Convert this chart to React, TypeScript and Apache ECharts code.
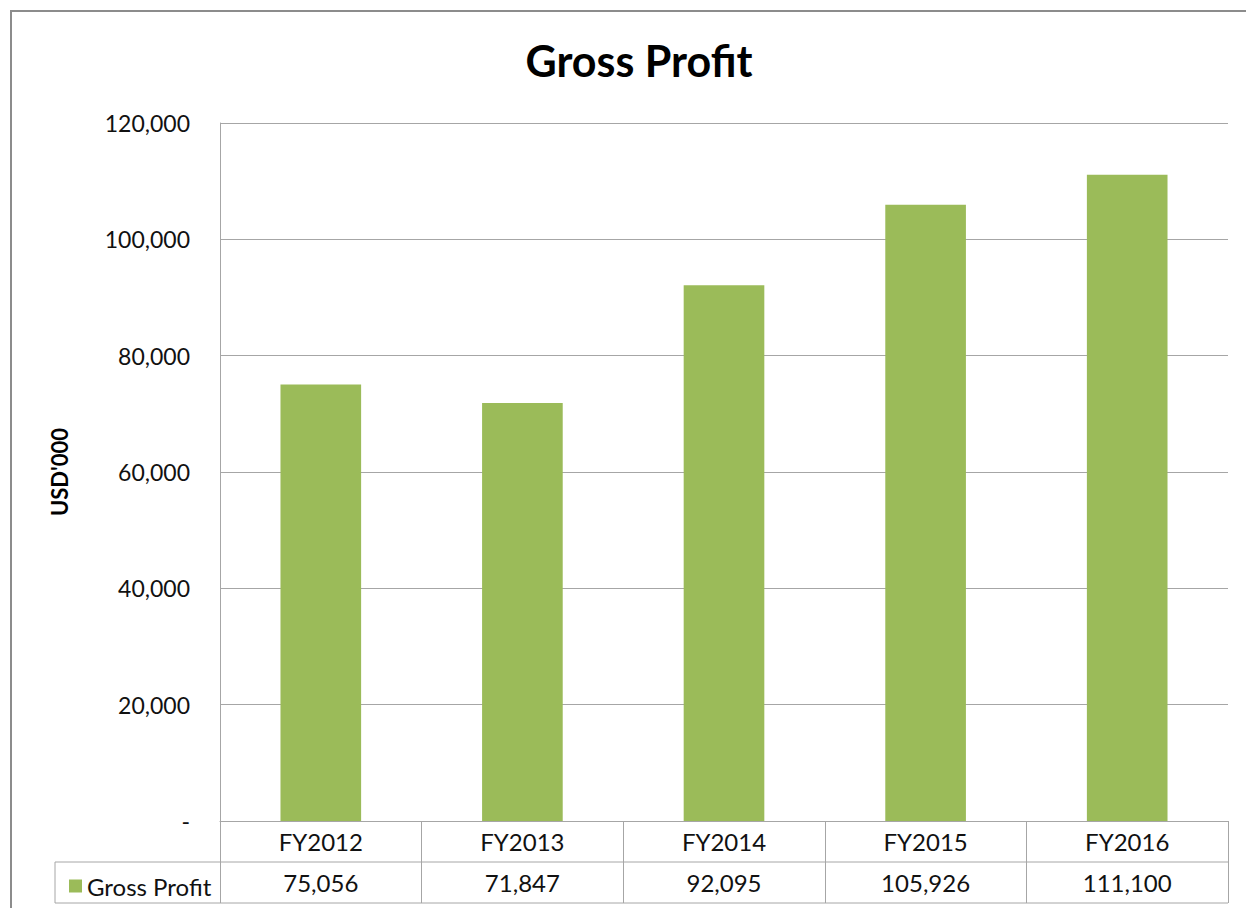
import React, { useEffect, useRef } from "react";
import * as echarts from "echarts";

const categories = ["FY2012", "FY2013", "FY2014", "FY2015", "FY2016"];
const grossProfit = [75056, 71847, 92095, 105926, 111100];
const seriesName = "Gross Profit";
const yTicks = { min: 0, max: 120000, interval: 20000 };

const FONT = "Lato, 'Open Sans', sans-serif";
const GRAY = "#A6A6A6";

const fmt = (v: number) => (v === 0 ? "-" : v.toLocaleString("en-US"));

export default function App() {
  const ref = useRef<HTMLDivElement>(null);
  useEffect(() => {
    const chart = echarts.init(ref.current!, null, { renderer: "svg" });
    const L = 220, R = 1228, T = 123, B = 821, ROW = 41;
    chart.setOption({
      animation: false,
      backgroundColor: "#fff",
      textStyle: { fontFamily: FONT },
      title: {
        text: "Gross Profit",
        left: 634,
        textAlign: "center",
        top: 34,
        textStyle: { fontFamily: FONT, fontSize: 43, fontWeight: "bold", color: "#000" },
      },
      legend: {
        data: [seriesName],
        left: 64,
        top: B + ROW + 7,
        icon: "rect",
        itemWidth: 13,
        itemHeight: 13,
        itemGap: 0,
        textStyle: { fontFamily: FONT, fontSize: 24, color: "#111" },
      },
      grid: { left: L, right: 1246 - R, top: T, bottom: 908 - B },
      xAxis: {
        type: "category",
        data: categories,
        axisLine: { show: true, lineStyle: { color: GRAY, width: 1 } },
        axisTick: { show: true, length: ROW * 2, lineStyle: { color: GRAY } },
        axisLabel: {
          margin: 0,
          fontFamily: FONT,
          fontSize: 24,
          color: "#111",
          lineHeight: ROW,
          formatter: (v: string, i: number) => `${v}\n${grossProfit[i].toLocaleString("en-US")}`,
        },
      },
      yAxis: {
        type: "value",
        min: yTicks.min,
        max: yTicks.max,
        interval: yTicks.interval,
        name: "USD'000",
        nameLocation: "middle",
        nameGap: 150,
        nameTextStyle: { fontFamily: FONT, fontSize: 22, fontWeight: "bold", color: "#000" },
        axisLine: { show: true, lineStyle: { color: GRAY } },
        axisTick: { show: false },
        splitLine: { lineStyle: { color: GRAY, width: 1 } },
        axisLabel: {
          margin: 30,
          fontFamily: FONT,
          fontSize: 23,
          color: "#111",
          formatter: (v: number) => fmt(v),
        },
      },
      series: [
        {
          name: seriesName,
          type: "bar",
          data: grossProfit,
          barWidth: "40%",
          itemStyle: { color: "#9BBB59" },
        },
      ],
      graphic: [
        {
          type: "rect",
          shape: { x: 11, y: 11, width: 1300, height: 1000 },
          style: { fill: "none", stroke: "#8C8C8C", lineWidth: 2 },
          silent: true,
        },
        {
          type: "line",
          shape: { x1: 55, y1: B + ROW, x2: R, y2: B + ROW },
          style: { stroke: GRAY, lineWidth: 1 },
        },
        {
          type: "line",
          shape: { x1: 55, y1: B + ROW * 2, x2: R, y2: B + ROW * 2 },
          style: { stroke: GRAY, lineWidth: 1 },
        },
        {
          type: "line",
          shape: { x1: 55, y1: B + ROW, x2: 55, y2: B + ROW * 2 },
          style: { stroke: GRAY, lineWidth: 1 },
        },
      ],
    });
    return () => chart.dispose();
  }, []);
  return (
    <div
      ref={ref}
      style={{ position: "fixed", left: 0, top: 0, width: 1246, height: 908 }}
    />
  );
}
